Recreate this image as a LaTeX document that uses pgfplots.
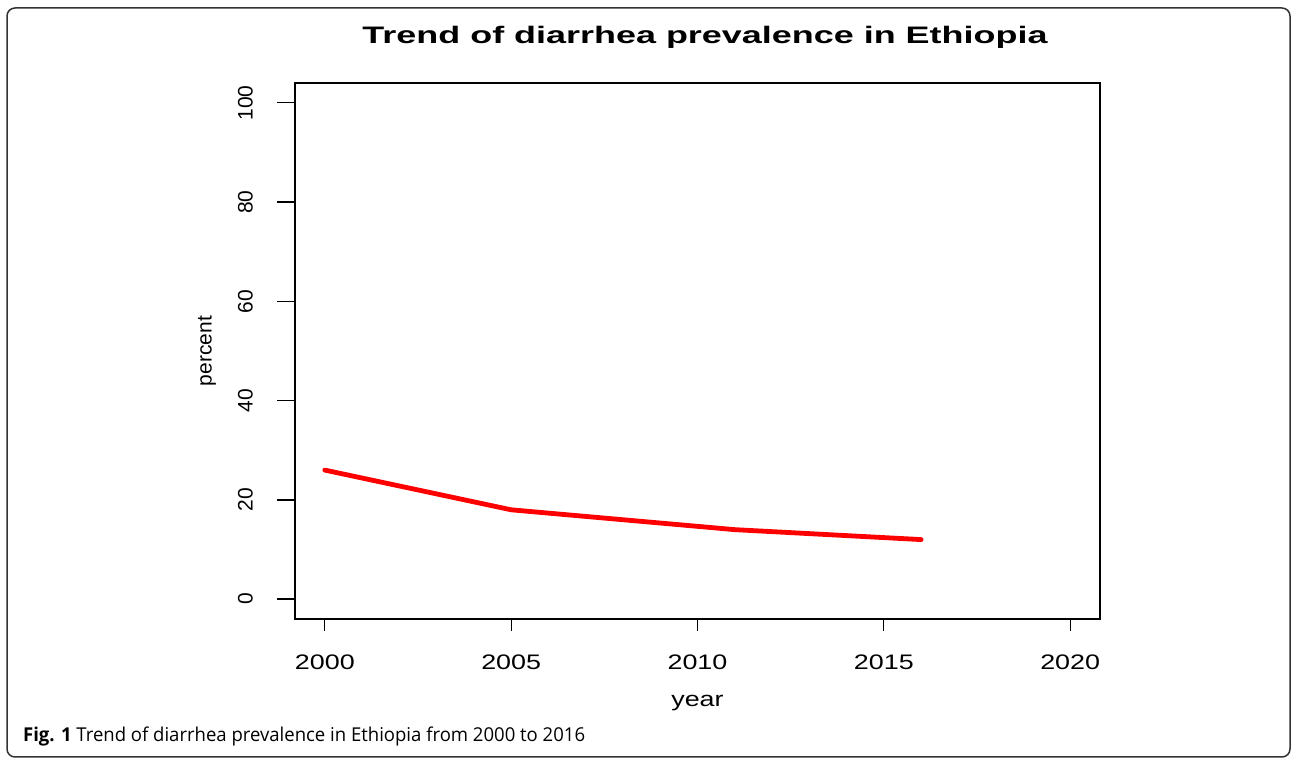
\documentclass[border=0pt]{standalone}
\usepackage{pgfplots}
\pgfplotsset{compat=1.18}
\usepackage{fontspec}
\setmainfont{Liberation Sans}
\newfontfamily\wide[FakeStretch=1.28]{Liberation Sans}
\newfontfamily\capfont{Open Sans}
\begin{document}
\begin{tikzpicture}
\useasboundingbox (0,0) rectangle (646pt,379.5pt);
\draw[line width=0.75pt, color=black!80, rounded corners=4pt] (3.5pt,1pt) rectangle (645pt,375.5pt);
% title
\node[anchor=base, inner sep=0pt] at (352.5pt,357.85pt)
  {\resizebox{342.5pt}{8.65pt}{\bfseries Trend of diarrhea prevalence in Ethiopia}};
% caption
\node[anchor=base west, inner sep=0pt] at (11.35pt,8.65pt)
  {\resizebox{281pt}{7.3pt}{\capfont\textbf{Fig. 1} Trend of diarrhea prevalence in Ethiopia from 2000 to 2016}};
\begin{axis}[
  at={(147.5pt,70pt)}, anchor=south west,
  width=402.5pt, height=268pt, scale only axis,
  xmin=1999.2, xmax=2020.8, ymin=-4, ymax=104,
  xtick={2000,2005,2010,2015,2020},
  xticklabels={2000,2005,2010,2015,2020},
  ytick={0,20,40,60,80,100},
  yticklabels={0,20,40,60,80,100},
  tick pos=left, tick align=outside,
  axis line style={line width=0.65pt, black},
  tick style={line width=0.65pt, black},
  xtick style={/pgfplots/major tick length=6pt},
  ytick style={/pgfplots/major tick length=9pt},
  xticklabel style={font=\wide\fontsize{10.5}{12}\selectfont, anchor=base, yshift=-21pt},
  yticklabel style={font=\fontsize{10.5}{12}\selectfont, xshift=-20.5pt, rotate=90, anchor=center},
  xlabel={year}, ylabel={percent},
  xlabel style={font=\wide\fontsize{10.5}{12}\selectfont, at={(axis description cs:0.5,0)}, anchor=base, yshift=-44pt},
  ylabel style={font=\fontsize{10.5}{12}\selectfont, at={(axis description cs:-0.1093,0.5)}, anchor=center},
]
\addplot[red, line width=2.4pt, line cap=round, line join=round] coordinates {
  (2000,26) (2005,18) (2011,14) (2016,12)
};
\end{axis}
\end{tikzpicture}
\end{document}
